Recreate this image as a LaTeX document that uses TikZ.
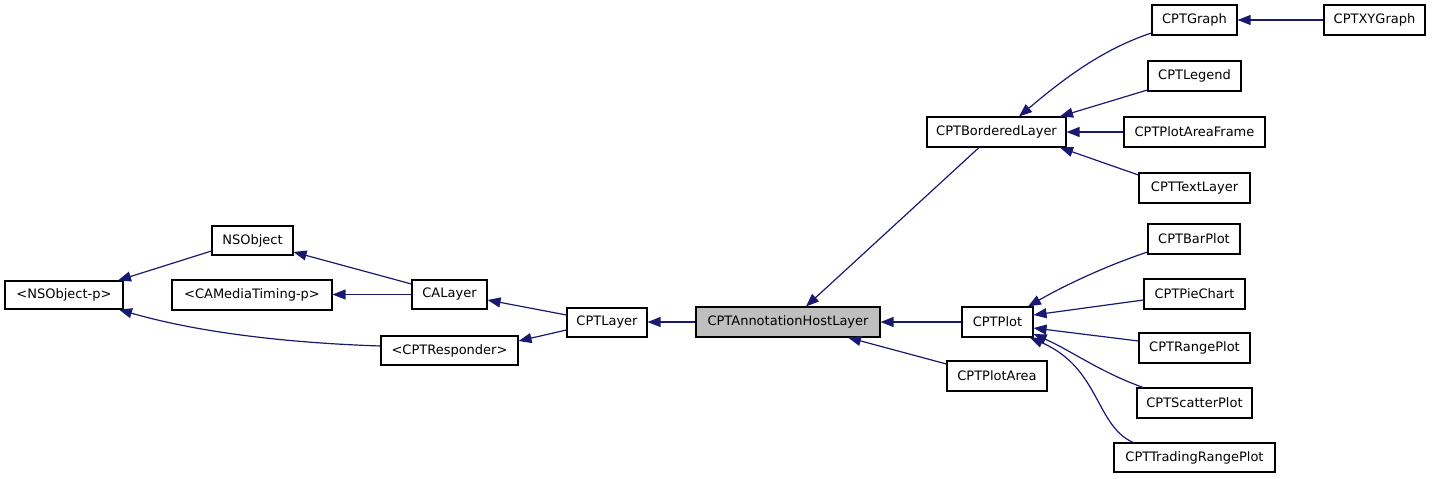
\documentclass[tikz,border=0pt]{standalone}
\usepackage{fontspec}
\setmainfont{DejaVu Sans}
\usetikzlibrary{arrows.meta,calc}
\definecolor{edgecol}{HTML}{191970}
\definecolor{hostgray}{HTML}{BFBFBF}
\tikzset{
  cls/.style={draw=black, line width=1.1pt, fill=white, inner sep=0pt,
    font=\fontsize{13}{15}\selectfont},
  edge/.style={draw=edgecol, line width=1.2pt,
    -{Triangle[length=13pt,width=10pt]}},
}
\begin{document}
\begin{tikzpicture}[x=1pt,y=-1pt]
\useasboundingbox (0,0) rectangle (1432,479);
% nodes
\node[cls, minimum width=118pt, minimum height=28pt] (nsp) at (64,295) {<NSObject-p>};
\node[cls, minimum width=81pt, minimum height=29pt] (nso) at (252.5,240.5) {NSObject};
\node[cls, minimum width=160pt, minimum height=30pt] (camt) at (252,295) {<CAMediaTiming-p>};
\node[cls, minimum width=75pt, minimum height=29pt] (calayer) at (449.5,294.5) {CALayer};
\node[cls, minimum width=137pt, minimum height=29pt] (resp) at (449.5,350.5) {<CPTResponder>};
\node[cls, minimum width=80pt, minimum height=29pt] (cptlayer) at (607,322.5) {CPTLayer};
\node[cls, fill=hostgray, minimum width=184pt, minimum height=30pt] (ahl) at (788,322) {CPTAnnotationHostLayer};
\node[cls, minimum width=139pt, minimum height=30pt] (bordered) at (996.5,132) {CPTBorderedLayer};
\node[cls, minimum width=71pt, minimum height=30pt] (plot) at (997.5,322) {CPTPlot};
\node[cls, minimum width=100pt, minimum height=30pt] (plotarea) at (997,376) {CPTPlotArea};
\node[cls, minimum width=85pt, minimum height=30pt] (graph) at (1194.5,20) {CPTGraph};
\node[cls, minimum width=101pt, minimum height=30pt] (xygraph) at (1374.5,20) {CPTXYGraph};
\node[cls, minimum width=93pt, minimum height=30pt] (legend) at (1194.5,76) {CPTLegend};
\node[cls, minimum width=141pt, minimum height=30pt] (paf) at (1194.5,132) {CPTPlotAreaFrame};
\node[cls, minimum width=111pt, minimum height=30pt] (textlayer) at (1194.5,188) {CPTTextLayer};
\node[cls, minimum width=92pt, minimum height=30pt] (barplot) at (1194,239) {CPTBarPlot};
\node[cls, minimum width=101pt, minimum height=30pt] (piechart) at (1194.5,294) {CPTPieChart};
\node[cls, minimum width=111pt, minimum height=30pt] (rangeplot) at (1194.5,348) {CPTRangePlot};
\node[cls, minimum width=115pt, minimum height=30pt] (scatter) at (1194.5,403) {CPTScatterPlot};
\node[cls, minimum width=161pt, minimum height=29pt] (trading) at (1194.5,457.5) {CPTTradingRangePlot};
% edges
\draw[edge] (nso.west |- 0,251) -- (nsp.north -| 118,0);
\draw[edge] (resp.west |- 0,346) .. controls (290,343) and (200,333) .. (nsp.south -| 119,0);
\draw[edge] (calayer.west |- 0,284) -- (nso.east |- 0,252);
\draw[edge] (calayer.west |- 0,294.5) -- (camt.east |- 0,294.5);
\draw[edge] (cptlayer.west |- 0,315) -- (calayer.east |- 0,300);
\draw[edge] (cptlayer.west |- 0,330) -- (resp.east |- 0,341);
\draw[edge] (ahl.west |- 0,322) -- (cptlayer.east |- 0,322);
\draw[edge] (bordered.south -| 979,0) -- (ahl.north -| 806,0);
\draw[edge] (plot.west |- 0,322) -- (ahl.east |- 0,322);
\draw[edge] (plotarea.west |- 0,364) -- (ahl.south -| 848,0);
\draw[edge] (graph.west |- 0,33) .. controls (1100,50) and (1060,82) .. (bordered.north -| 1019,0);
\draw[edge] (xygraph.west |- 0,20) -- (graph.east |- 0,20);
\draw[edge] (legend.west |- 0,90) -- (bordered.north -| 1060,0);
\draw[edge] (paf.west |- 0,132) -- (bordered.east |- 0,132);
\draw[edge] (textlayer.west |- 0,175) -- (bordered.south -| 1060,0);
\draw[edge] (barplot.west |- 0,252) .. controls (1100,268) and (1060,288) .. (plot.north -| 1028,0);
\draw[edge] (piechart.west |- 0,300) -- (plot.east |- 0,315);
\draw[edge] (rangeplot.west |- 0,341) -- (plot.east |- 0,328);
\draw[edge] (scatter.north -| 1143,0) .. controls (1100,372) and (1070,350) .. (plot.east |- 0,334);
\draw[edge] (trading.north -| 1133,0) .. controls (1095,425) and (1100,368) .. (plot.south -| 1030,0);
\end{tikzpicture}
\end{document}
